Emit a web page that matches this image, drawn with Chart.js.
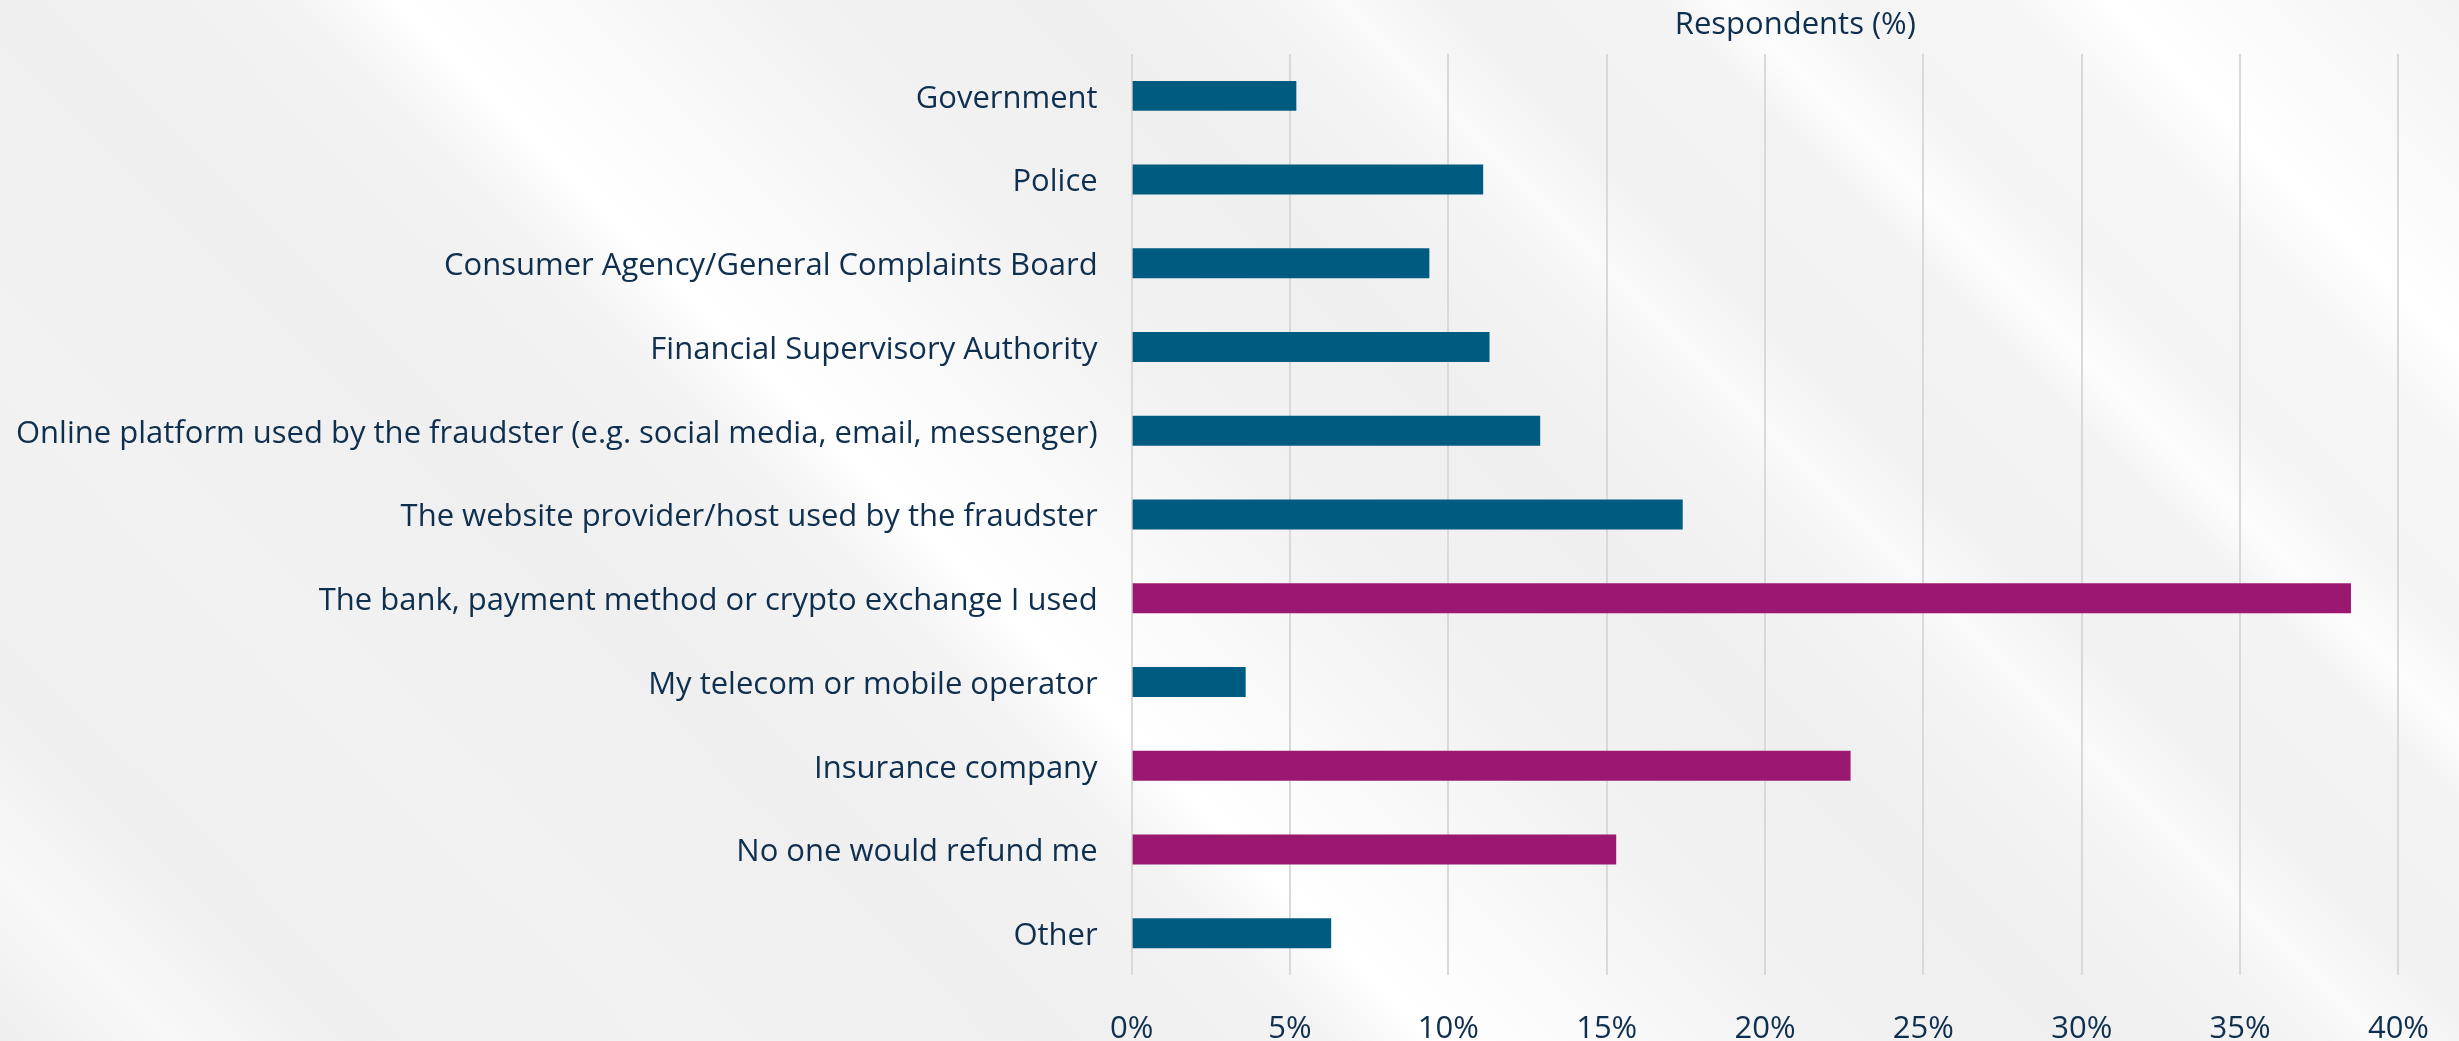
<!DOCTYPE html>
<html>
<head>
<meta charset="utf-8">
<script src="https://cdn.jsdelivr.net/npm/chart.js@4/dist/chart.umd.min.js"></script>
<style>
  html, body { margin: 0; padding: 0; }
  body {
    width: 2459px; height: 1041px; overflow: hidden;
    background-color: #f1f1f1;
    background-image: linear-gradient(45deg,
      #eeeeee 0%, #f8f8f8 5%, #efefef 10%, #f2f2f2 20%, #efefef 30%,
      #f3f3f3 38%, #ffffff 41%, #fbfbfb 45%, #f2f2f2 52%, #efefef 60%,
      #f4f4f4 66%, #fafafa 68%, #f2f2f2 71%, #f3f3f3 77%, #fdfdfd 79%,
      #f4f4f4 82%, #f6f6f6 87%, #ffffff 90%, #fafafa 94%, #f3f3f3 100%);
  }
  canvas { display: block; }
</style>
</head>
<body>
<canvas id="chart" width="2459" height="1041"></canvas>
<script>
// Who respondents expect to refund them after a fraud
const categories = [
  'Government',
  'Police',
  'Consumer Agency/General Complaints Board',
  'Financial Supervisory Authority',
  'Online platform used by the fraudster (e.g. social media, email, messenger)',
  'The website provider/host used by the fraudster',
  'The bank, payment method or crypto exchange I used',
  'My telecom or mobile operator',
  'Insurance company',
  'No one would refund me',
  'Other'
];
const values = [5.2, 11.1, 9.4, 11.3, 12.9, 17.4, 38.5, 3.6, 22.7, 15.3, 6.3];
const highlighted = [false, false, false, false, false, false, true, false, true, true, false];
const axisTitle = 'Respondents (%)';

const BLUE = '#005b80';
const MAGENTA = '#9b1870';
const TEXT = '#0f2f4f';
const FONT = "'Open Sans', sans-serif";

// Axis title drawn above the plot area
const headingPlugin = {
  id: 'heading',
  afterDraw(chart, args, opts) {
    const { ctx, chartArea } = chart;
    ctx.save();
    ctx.font = `${opts.size}px ${opts.family}`;
    ctx.fillStyle = opts.color;
    ctx.textAlign = 'center';
    ctx.textBaseline = 'alphabetic';
    ctx.fillText(opts.text, (chartArea.left + chart.width) / 2, chartArea.top - 20);
    ctx.restore();
  }
};

new Chart(document.getElementById('chart'), {
  type: 'bar',
  data: {
    labels: categories,
    datasets: [{
      data: values,
      backgroundColor: highlighted.map(h => h ? MAGENTA : BLUE),
      borderWidth: 0,
      barPercentage: 0.358,
      categoryPercentage: 1
    }]
  },
  options: {
    indexAxis: 'y',
    responsive: false,
    animation: false,
    devicePixelRatio: 1,
    layout: { padding: { top: 54, right: 30, left: -18, bottom: -43 } },
    plugins: {
      legend: { display: false },
      tooltip: { enabled: false },
      heading: { text: axisTitle, size: 31, family: FONT, color: TEXT }
    },
    scales: {
      x: {
        min: 0,
        max: 40,
        position: 'bottom',
        border: { display: false },
        grid: { color: '#d9d9d9', lineWidth: 2, drawTicks: false },
        ticks: {
          stepSize: 5,
          padding: 30,
          color: TEXT,
          font: { family: FONT, size: 31, lineHeight: 1.58 },
          maxRotation: 0,
          callback: v => v + '%'
        }
      },
      y: {
        border: { display: false },
        grid: { display: false, drawTicks: false },
        ticks: {
          padding: 34,
          labelOffset: 3,
          color: TEXT,
          font: { family: FONT, size: 31 },
          autoSkip: false
        }
      }
    }
  },
  plugins: [headingPlugin]
});
</script>
</body>
</html>
